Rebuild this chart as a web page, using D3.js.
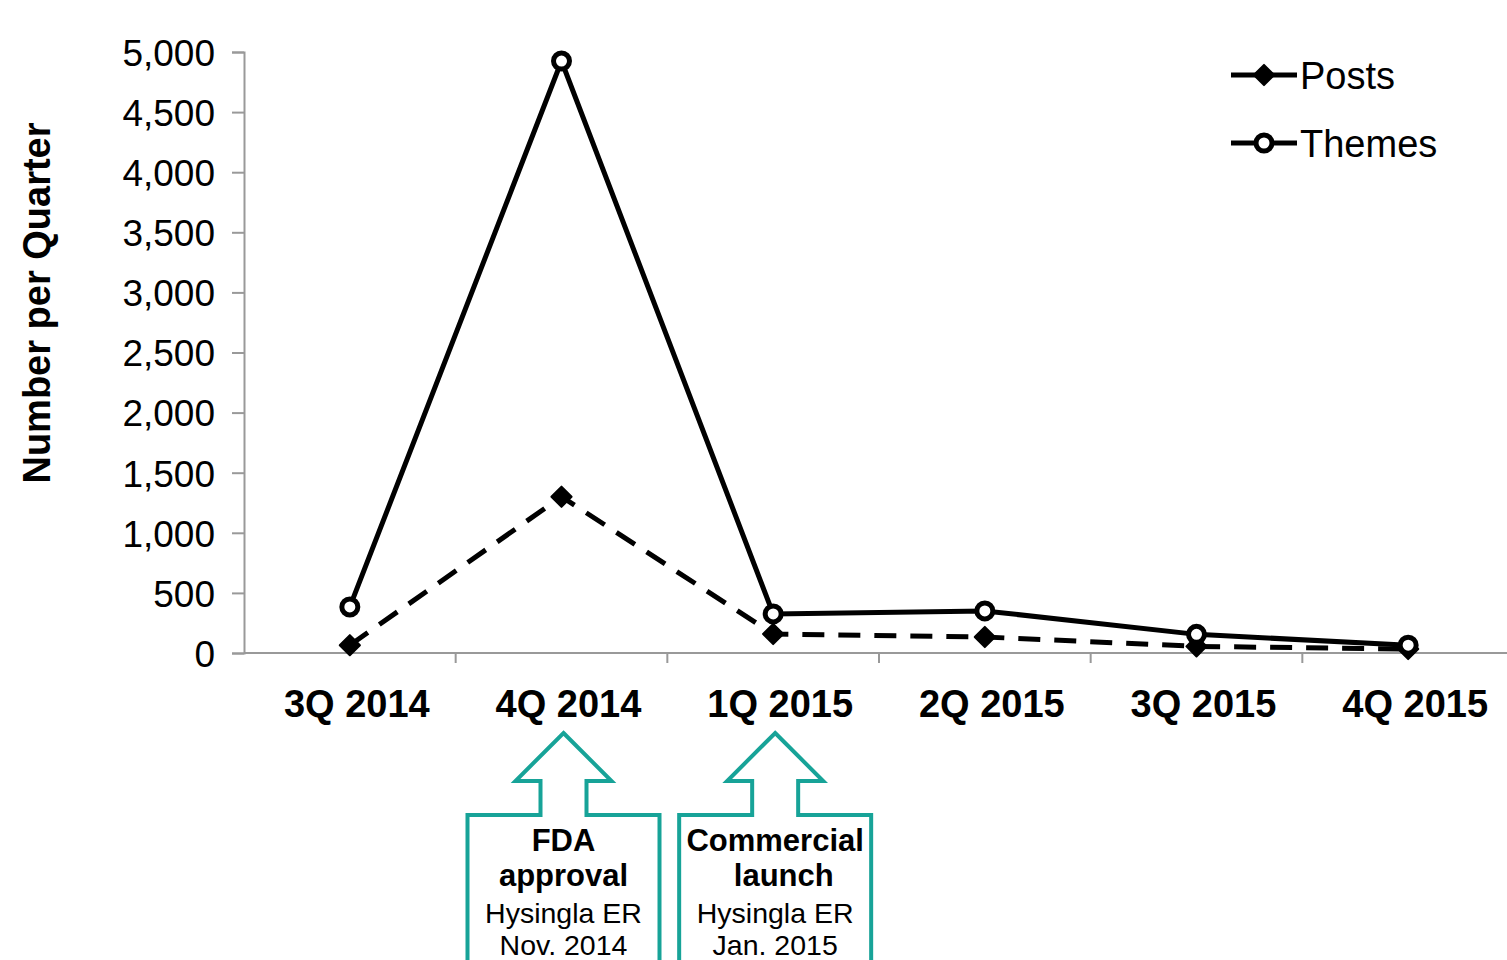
<!DOCTYPE html>
<html>
<head>
<meta charset="utf-8">
<script src="https://cdn.jsdelivr.net/npm/d3@7"></script>
<style>
  body { margin: 0; background: #fff; }
  svg { display: block; font-family: "Liberation Sans", Arial, sans-serif; }
</style>
</head>
<body>
<script>
// quarters and series values
const quarters = ["3Q 2014", "4Q 2014", "1Q 2015", "2Q 2015", "3Q 2015", "4Q 2015"];
const posts = [65, 1300, 158, 133, 55, 33];
const themes = [383, 4925, 325, 350, 155, 65];
const yTicks = [0, 500, 1000, 1500, 2000, 2500, 3000, 3500, 4000, 4500, 5000];

// milestone callouts under the x axis
const calloutQuarters = ["4Q 2014", "1Q 2015"];
const calloutTitles = [["FDA", "approval"], ["Commercial", "  launch"]];
const calloutNotes = [["Hysingla ER", "Nov. 2014"], ["Hysingla ER", "Jan. 2015"]];

const width = 1507, height = 960;
const teal = "#17a398";

const svg = d3.select("body").append("svg")
    .attr("width", width)
    .attr("height", height);

let x = d3.scaleBand()
    .domain(quarters)
    .range([244, 1514]);

let y = d3.scaleLinear()
    .domain([0, 5000])
    .range([653, 52]);

const cx = q => x(q) + x.bandwidth() / 2;

// Y axis
let yAxis = svg.append("g")
    .attr("transform", "translate(244,0)")
    .call(d3.axisLeft(y).tickValues(yTicks).tickSize(12).tickPadding(17).tickFormat(d3.format(",")));
yAxis.select(".domain").attr("stroke", "#999").attr("stroke-width", 2);
yAxis.selectAll(".tick line").attr("stroke", "#999").attr("stroke-width", 2);
yAxis.selectAll(".tick text")
    .attr("fill", "#000")
    .style("font-size", "37px")
    .attr("dy", "0.36em");

// X axis line + band boundary ticks
svg.append("line")
    .attr("x1", 244).attr("x2", width)
    .attr("y1", y(0)).attr("y2", y(0))
    .attr("stroke", "#999").attr("stroke-width", 2);

svg.selectAll(".xtick")
    .data(quarters.slice(1))
    .enter().append("line")
    .attr("x1", d => x(d)).attr("x2", d => x(d))
    .attr("y1", y(0)).attr("y2", y(0) + 10)
    .attr("stroke", "#999").attr("stroke-width", 2);

svg.selectAll(".xlabel")
    .data(quarters)
    .enter().append("text")
    .attr("x", d => cx(d) + 7)
    .attr("y", 717)
    .attr("text-anchor", "middle")
    .style("font-size", "38px")
    .style("font-weight", "bold")
    .text(d => d);

// Y title
svg.append("text")
    .attr("transform", "translate(50,303) rotate(-90)")
    .attr("text-anchor", "middle")
    .style("font-size", "38px")
    .style("font-weight", "bold")
    .text("Number per Quarter");

// lines
let line = d3.line()
    .x((d, i) => cx(quarters[i]))
    .y(d => y(d));

svg.append("path")
    .datum(posts)
    .attr("fill", "none")
    .attr("stroke", "#000")
    .attr("stroke-width", 5)
    .attr("stroke-dasharray", "22,14")
    .attr("d", line);

svg.append("path")
    .datum(themes)
    .attr("fill", "none")
    .attr("stroke", "#000")
    .attr("stroke-width", 5)
    .attr("d", line);

const diamond = d3.symbol().type(d3.symbolDiamond2).size(260);

svg.selectAll(".postDot")
    .data(posts)
    .enter().append("path")
    .attr("transform", (d, i) => `translate(${cx(quarters[i])},${y(d)})`)
    .attr("d", diamond)
    .attr("fill", "#000")
    .attr("stroke", "#000")
    .attr("stroke-width", 2)
    .attr("stroke-linejoin", "round");

svg.selectAll(".themeDot")
    .data(themes)
    .enter().append("circle")
    .attr("cx", (d, i) => cx(quarters[i]))
    .attr("cy", d => y(d))
    .attr("r", 8)
    .attr("fill", "#fff")
    .attr("stroke", "#000")
    .attr("stroke-width", 5);

// legend
let legend = svg.append("g").attr("transform", "translate(1231,0)");
const legendItems = [{name: "Posts", yy: 75}, {name: "Themes", yy: 143}];
legendItems.forEach((item, i) => {
    legend.append("line")
        .attr("x1", 0).attr("x2", 66)
        .attr("y1", item.yy).attr("y2", item.yy)
        .attr("stroke", "#000").attr("stroke-width", 5);
    if (i === 0) {
        legend.append("path")
            .attr("transform", `translate(33,${item.yy})`)
            .attr("d", diamond)
            .attr("fill", "#000")
            .attr("stroke", "#000")
            .attr("stroke-width", 2)
            .attr("stroke-linejoin", "round");
    } else {
        legend.append("circle")
            .attr("cx", 33).attr("cy", item.yy).attr("r", 8)
            .attr("fill", "#fff").attr("stroke", "#000").attr("stroke-width", 5);
    }
    legend.append("text")
        .attr("x", 69)
        .attr("y", item.yy + 14)
        .style("font-size", "38px")
        .text(item.name);
});

// callouts: up-arrow boxes
calloutQuarters.forEach((q, i) => {
    const c = cx(q) + 2;
    const tipY = 733, headY = 781, boxY = 815, bottom = 975;
    const headHalf = 48, shaftHalf = 23, boxHalf = 96;
    const pts = [
        [c, tipY], [c + headHalf, headY], [c + shaftHalf, headY], [c + shaftHalf, boxY],
        [c + boxHalf, boxY], [c + boxHalf, bottom], [c - boxHalf, bottom], [c - boxHalf, boxY],
        [c - shaftHalf, boxY], [c - shaftHalf, headY], [c - headHalf, headY]
    ];
    svg.append("path")
        .attr("d", d3.line()(pts) + "Z")
        .attr("fill", "#fff")
        .attr("stroke", teal)
        .attr("stroke-width", 4);

    calloutTitles[i].forEach((t, j) => {
        svg.append("text")
            .attr("x", c)
            .attr("y", 851 + j * 35)
            .attr("text-anchor", "middle")
            .style("white-space", "pre")
            .style("font-size", "31px")
            .style("font-weight", "bold")
            .text(t);
    });
    calloutNotes[i].forEach((t, j) => {
        svg.append("text")
            .attr("x", c)
            .attr("y", 923 + j * 32)
            .attr("text-anchor", "middle")
            .style("font-size", "28.5px")
            .text(t);
    });
});
</script>
</body>
</html>
